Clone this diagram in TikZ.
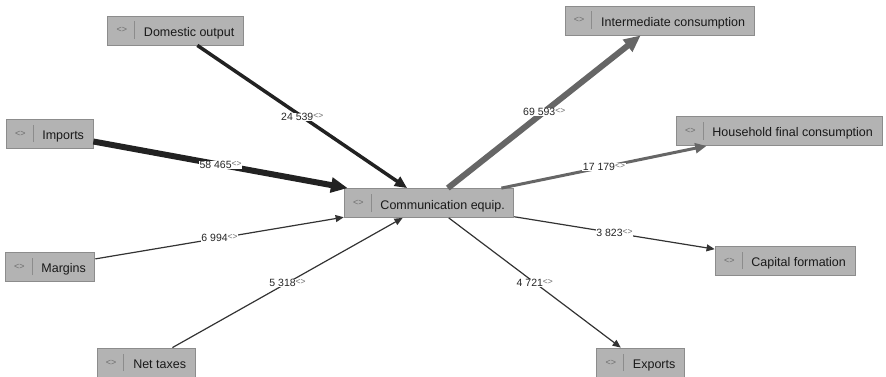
\documentclass[tikz,border=0pt]{standalone}
\usepackage{fontspec}
\setmainfont{Liberation Sans}
\usetikzlibrary{arrows.meta}
\definecolor{boxgray}{HTML}{B3B3B3}
\definecolor{boxline}{HTML}{8C8C8C}
\definecolor{flowdark}{HTML}{222222}
\definecolor{flowgray}{HTML}{666666}
\definecolor{flowthin}{HTML}{333333}
\definecolor{tagcolor}{HTML}{6E6E6E}
\newcommand{\tagmark}{{\fontsize{9}{8}\selectfont\color{tagcolor}<>}}
\newcommand{\boxlabel}[1]{\raisebox{3.5pt}{\tagmark}\hspace{7pt}{\color{boxline}\vrule width 0.8pt height 15pt depth 2.6pt}\hspace{9pt}#1}
\newcommand{\flowlabel}[1]{#1\raisebox{2pt}{{\fontsize{8.5}{7}\selectfont\color{tagcolor}<>}}}
\tikzset{
  sector/.style={draw=boxline, fill=boxgray, line width=0.8pt, minimum height=29pt,
    inner xsep=9pt, inner ysep=0pt, text height=15pt, text depth=3pt,
    font=\fontsize{12.5}{14}\selectfont, text=black!90},
  flow/.style={line width=#1, -{Triangle[length=6pt 1.8, width=5pt 1.6]}},
  amount/.style={fill=white, inner sep=0.5pt, font=\fontsize{10.5}{11}\selectfont, text=black!85}
}

\begin{document}
\begin{tikzpicture}[x=1pt, y=-1pt]
\useasboundingbox (0,0) rectangle (886,377);
\node[sector] (0) at (429.0, 203.0) {\boxlabel{Communication equip.}};
%inputs
\node[sector] (1) at (175.5, 30.5) {\boxlabel{Domestic output}};
\node[sector] (2) at (49.5, 133.5) {\boxlabel{Imports}};
\node[sector] (3) at (50.0, 266.5) {\boxlabel{Margins}};
\node[sector] (4) at (146.0, 362.5) {\boxlabel{Net taxes}};
%uses
\node[sector] (5) at (659.5, 20.5) {\boxlabel{Intermediate consumption}};
\node[sector] (6) at (779.0, 131.0) {\boxlabel{Household final consumption}};
\node[sector] (7) at (785.0, 260.5) {\boxlabel{Capital formation}};
\node[sector] (8) at (640.5, 362.5) {\boxlabel{Exports}};
%flows in
\draw[flow=3.5pt, flowdark] (1) -- node[amount] {\flowlabel{24 539}} (0);
\draw[flow=6pt, flowdark] (2) -- node[amount] {\flowlabel{58 465}} (0);
\draw[flow=1.2pt, flowthin] (3) -- node[amount] {\flowlabel{6 994}} (0);
\draw[flow=1.2pt, flowthin] (4) -- node[amount] {\flowlabel{5 318}} (0);
%flows out
\draw[flow=6pt, flowgray] (0) -- node[amount] {\flowlabel{69 593}} (5);
\draw[flow=3pt, flowgray] (0) -- node[amount] {\flowlabel{17 179}} (6);
\draw[flow=1.2pt, flowthin] (0) -- node[amount] {\flowlabel{3 823}} (7);
\draw[flow=1.2pt, flowthin] (0) -- node[amount] {\flowlabel{4 721}} (8);
\end{tikzpicture}
\end{document}
